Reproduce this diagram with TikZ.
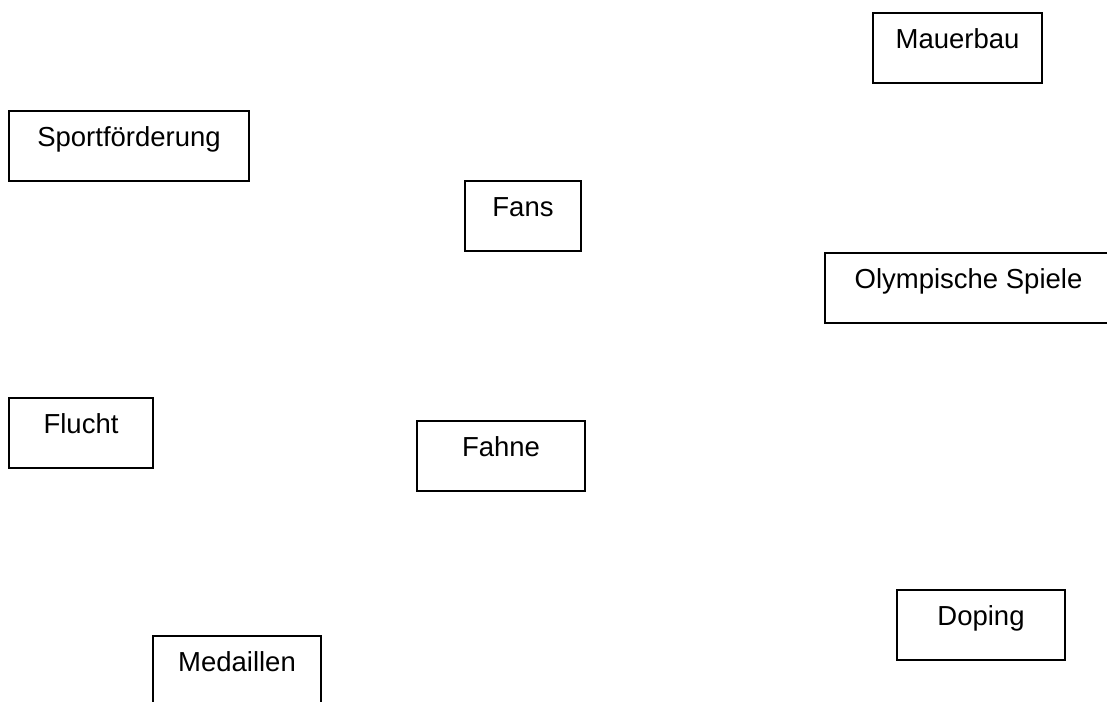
\documentclass[tikz,border=0pt]{standalone}
\usepackage{fontspec}
\setmainfont{Liberation Sans}
\begin{document}
\begin{tikzpicture}[x=1pt,y=-1pt,
  box/.style={draw=black, line width=1.6pt, rectangle, inner sep=0pt,
    text height=36pt, text depth=34pt, anchor=north,
    font=\fontsize{27.5pt}{30pt}\selectfont}]
\useasboundingbox[fill=white] (0,0) rectangle (1107,701);
\node[box, minimum width=169pt] (mauer) at (957.5,12) {Mauerbau};
\node[box, minimum width=240pt] (sport) at (129,110) {Sportförderung};
\node[box, minimum width=116pt] (fans) at (523,180) {Fans};
\node[box, minimum width=287pt] (olymp) at (968.5,252) {Olympische Spiele};
\node[box, minimum width=144pt] (flucht) at (81,397) {Flucht};
\node[box, minimum width=168pt] (fahne) at (501,420) {Fahne};
\node[box, minimum width=168pt] (doping) at (981,589) {Doping};
\node[box, minimum width=168pt] (medaillen) at (237,635) {Medaillen};
\end{tikzpicture}
\end{document}
